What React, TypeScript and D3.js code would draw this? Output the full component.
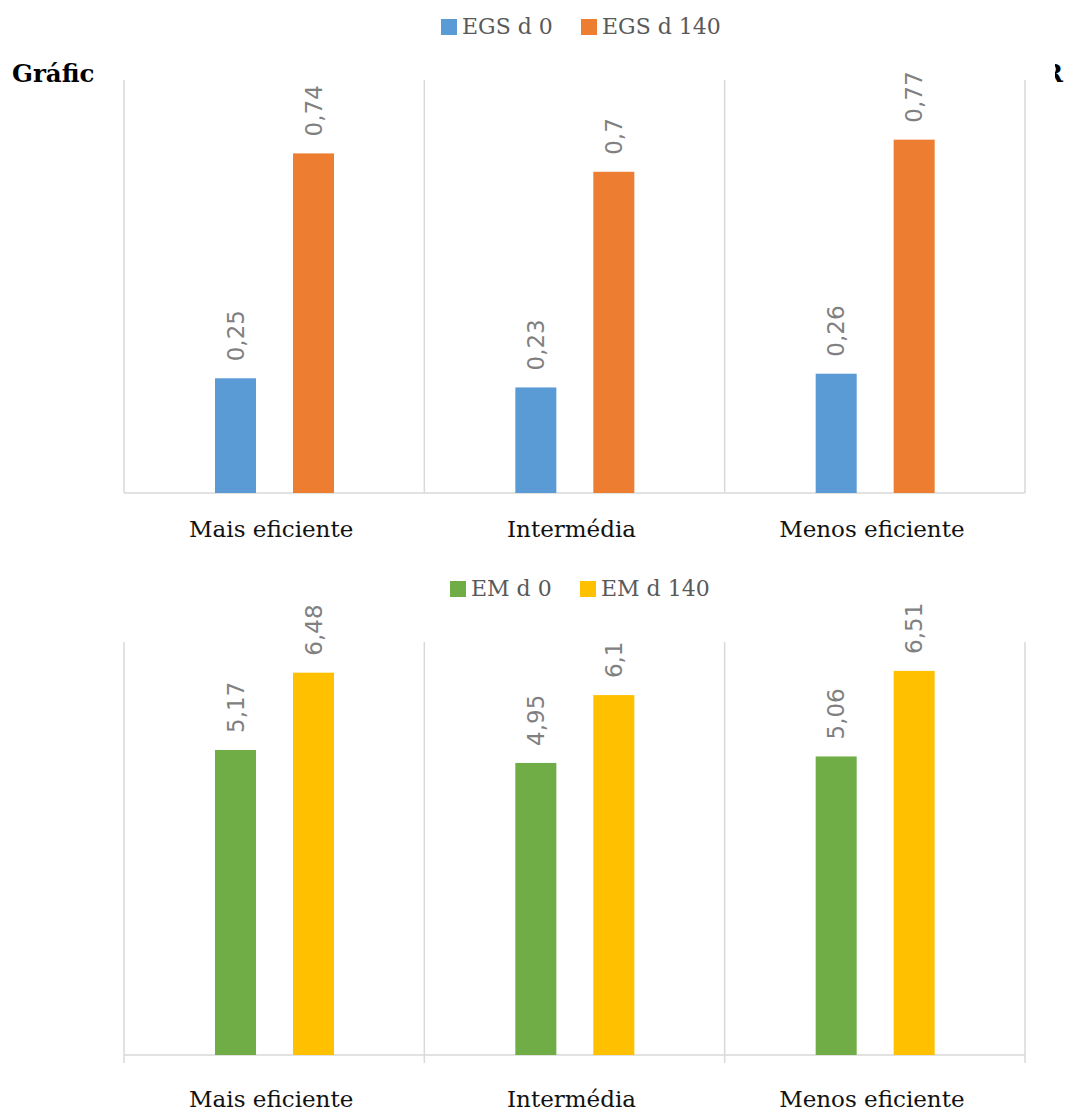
import React from "react";
import * as d3 from "d3";

// Categories shared by both panels
const categories = ["Mais eficiente", "Intermédia", "Menos eficiente"];

// Upper panel: EGS
const egsSeries = ["EGS d 0", "EGS d 140"];
const egsD0 = [0.25, 0.23, 0.26];
const egsD140 = [0.74, 0.7, 0.77];
const egsColors = ["#5B9BD5", "#ED7D31"];

// Lower panel: EM
const emSeries = ["EM d 0", "EM d 140"];
const emD0 = [5.17, 4.95, 5.06];
const emD140 = [6.48, 6.1, 6.51];
const emColors = ["#70AD47", "#FFC000"];

const W = 1067;
const H = 1111;
const GRID = "#d9d9d9";
const SERIF = "'DejaVu Serif', serif";
const SANS = "'DejaVu Sans', sans-serif";

const fmt = (v: number) => String(v).replace(".", ",");

type PanelProps = {
  series: string[];
  values: number[][];
  colors: string[];
  yMax: number;
  top: number;
  bottom: number;
  tickExt: number;
  labelBaseline: number;
  legendY: number;
  legendX: number[];
};

function Panel(p: PanelProps) {
  const x = d3.scaleBand<string>().domain(categories).range([124, 1025]).padding(0);
  const inner = d3
    .scaleBand<string>()
    .domain(p.series)
    .range([91, 210])
    .paddingInner(0.474)
    .paddingOuter(0);
  const y = d3.scaleLinear().domain([0, p.yMax]).range([p.bottom, p.top]);
  const bounds = [...categories.map((c) => x(c)!), 1025];

  return (
    <g>
      {/* legend */}
      {p.series.map((s, i) => (
        <g key={s} transform={`translate(${p.legendX[i]},${p.legendY})`}>
          <rect x={0} y={-15} width={16} height={16} fill={p.colors[i]} />
          <text x={21} y={0} fontFamily={SERIF} fontSize={22} fill="#595959">
            {s}
          </text>
        </g>
      ))}

      {/* category separators */}
      {bounds.map((b, i) => (
        <line
          key={i}
          x1={b}
          x2={b}
          y1={p.top}
          y2={p.bottom + p.tickExt}
          stroke={GRID}
          strokeWidth={1.5}
        />
      ))}
      <line x1={124} x2={1025} y1={p.bottom} y2={p.bottom} stroke={GRID} strokeWidth={1.5} />

      {/* bars and rotated value labels */}
      {categories.map((c, ci) =>
        p.series.map((s, si) => {
          const v = p.values[si][ci];
          const bx = x(c)! + inner(s)!;
          const bw = inner.bandwidth();
          const cx = bx + bw / 2;
          const ty = y(v) - 17;
          return (
            <g key={c + s}>
              <rect x={bx} y={y(v)} width={bw} height={p.bottom - y(v)} fill={p.colors[si]} />
              <text
                transform={`translate(${cx},${ty}) rotate(-90)`}
                dy="0.36em"
                fontFamily={SANS}
                fontSize={23}
                fill="#808080"
              >
                {fmt(v)}
              </text>
            </g>
          );
        })
      )}

      {/* category labels */}
      {categories.map((c) => (
        <text
          key={c}
          x={x(c)! + x.bandwidth() / 2 - 3}
          y={p.labelBaseline}
          textAnchor="middle"
          fontFamily={SERIF}
          fontSize={23}
          fill="#111"
        >
          {c}
        </text>
      ))}
    </g>
  );
}

export default function App() {
  return (
    <svg
      width={W}
      height={H}
      style={{ position: "absolute", left: 0, top: 0, background: "#fff" }}
    >
      <defs>
        <clipPath id="tailClip">
          <rect x={1055} y={0} width={20} height={120} />
        </clipPath>
      </defs>
      <rect width={W} height={H} fill="#fff" />

      {/* heading text partly hidden behind the chart area */}
      <text x={12} y={82} fontFamily={SERIF} fontWeight="bold" fontSize={24.5} fill="#000">
        Gráfic
      </text>
      <text
        x={1043}
        y={82}
        fontFamily={SERIF}
        fontWeight="bold"
        fontSize={24}
        fill="#000"
        clipPath="url(#tailClip)"
      >
        R
      </text>

      <Panel
        series={egsSeries}
        values={[egsD0, egsD140]}
        colors={egsColors}
        yMax={0.9}
        top={80}
        bottom={493}
        tickExt={0}
        labelBaseline={537}
        legendY={34}
        legendX={[441, 581]}
      />
      <Panel
        series={emSeries}
        values={[emD0, emD140]}
        colors={emColors}
        yMax={7}
        top={642}
        bottom={1055}
        tickExt={8}
        labelBaseline={1107}
        legendY={596}
        legendX={[450, 580]}
      />
    </svg>
  );
}
